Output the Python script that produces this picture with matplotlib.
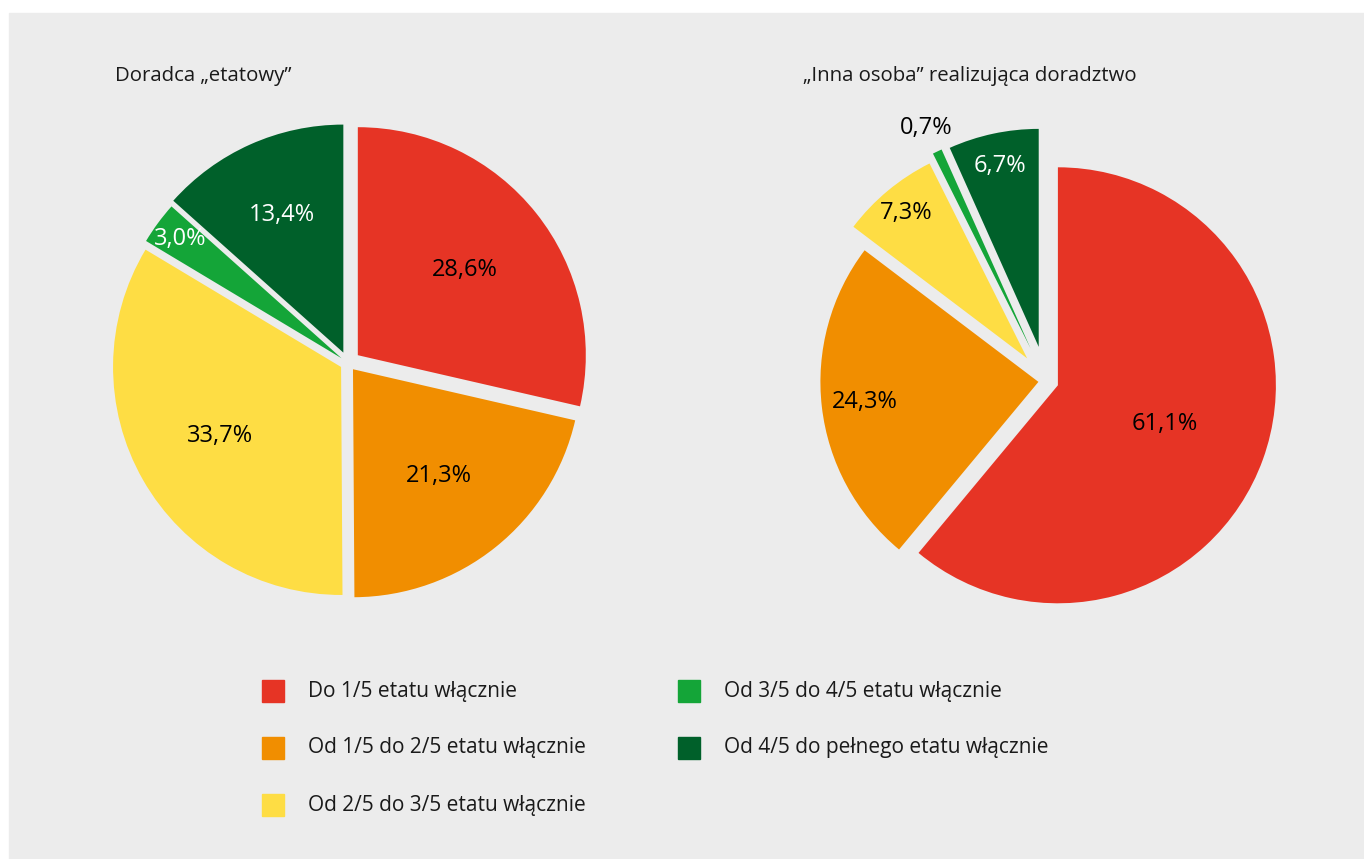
import numpy as np
import matplotlib.pyplot as plt
from matplotlib.patches import Rectangle

plt.rcParams['font.family'] = ['Open Sans', 'DejaVu Sans']

# dane
kategorie = ["Do 1/5 etatu włącznie",
             "Od 1/5 do 2/5 etatu włącznie",
             "Od 2/5 do 3/5 etatu włącznie",
             "Od 3/5 do 4/5 etatu włącznie",
             "Od 4/5 do pełnego etatu włącznie"]
etatowy = [28.6, 21.3, 33.7, 3.0, 13.4]
inna_osoba = [61.1, 24.3, 7.3, 0.7, 6.7]
tytul_lewy = "Doradca „etatowy”"
tytul_prawy = "„Inna osoba” realizująca doradztwo"

kolory = ["#e63425", "#f18e00", "#fedd44", "#14a538", "#00602a"]
tlo = "#ececec"

W, H = 1364, 859
fig = plt.figure(figsize=(W / 100, H / 100), dpi=100)
fig.patches.append(Rectangle((9 / W, 0), 1 - 9 / W, (H - 13) / H,
                             transform=fig.transFigure, color=tlo, zorder=-10))


def rysuj_pie(cx, cy, r, wartosci, explode, dist, kol_txt):
    half = 1.25 * r
    ax = fig.add_axes([(cx - half) / W, (H - cy - half) / H, 2 * half / W, 2 * half / H])
    ax.set_facecolor("none")
    wedges, _ = ax.pie(wartosci, colors=kolory, startangle=90, counterclock=False,
                       explode=explode, radius=1, wedgeprops=dict(linewidth=0))
    for w, v, d, c in zip(wedges, wartosci, dist, kol_txt):
        th = np.deg2rad((w.theta1 + w.theta2) / 2)
        x0, y0 = w.center
        ax.text(x0 + d * np.cos(th), y0 + d * np.sin(th), f"{v:.1f}%".replace(".", ","),
                ha="center", va="center", fontsize=17, color=c)
    ax.set_xlim(-1.25, 1.25)
    ax.set_ylim(-1.25, 1.25)
    ax.axis("off")
    return ax


rysuj_pie(348, 363, 228, etatowy, [0.055, 0.035, 0.035, 0.035, 0.05],
          [0.6, 0.6, 0.61, 0.88, 0.66], ["black", "black", "black", "white", "white"])
rysuj_pie(1046, 381, 218, inna_osoba, [0.058, 0.035, 0.135, 0.165, 0.16],
          [0.52, 0.8, 0.87, 1.12, 0.85], ["black", "black", "black", "black", "white"])

fig.text(115 / W, 1 - 76 / H, tytul_lewy, fontsize=14.7, color="#1a1a1a", va="center")
fig.text(803 / W, 1 - 76 / H, tytul_prawy, fontsize=14.7, color="#1a1a1a", va="center")

# legenda
poz = [(262, 691), (262, 748), (262, 805), (678, 691), (678, 748)]
for (x, y), lab, kol in zip(poz, kategorie, kolory):
    fig.patches.append(Rectangle((x / W, 1 - (y + 11) / H), 22 / W, 22 / H,
                                 transform=fig.transFigure, color=kol, zorder=1))
    fig.text((x + 46) / W, 1 - y / H, lab, fontsize=15, color="#1a1a1a", va="center")

plt.savefig("out.png", dpi=100)
